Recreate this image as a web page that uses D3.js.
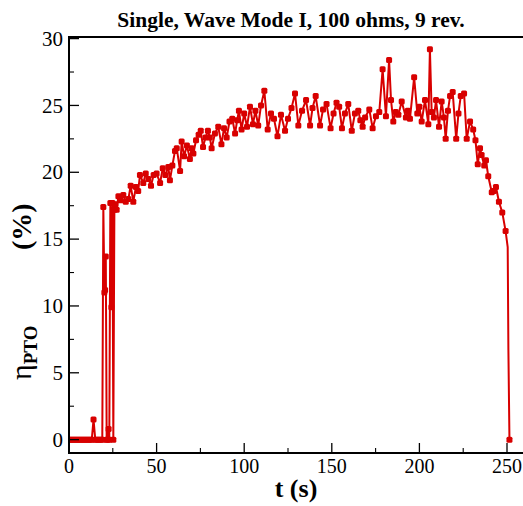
<!DOCTYPE html>
<html>
<head>
<meta charset="utf-8">
<script src="https://cdn.jsdelivr.net/npm/d3@7"></script>
<style>
  html, body { margin: 0; padding: 0; background: #fff; }
  svg { display: block; font-family: "Liberation Serif", "Times New Roman", serif; }
</style>
</head>
<body>
<div id="chart"></div>
<script>
// ---------------------------------------------------------------------------
// PTO efficiency vs time — single run, wave mode I, 100 ohms, 9 rev.
// ---------------------------------------------------------------------------

const title = 'Single, Wave Mode I, 100 ohms, 9 rev.';
const xTicks = [0, 50, 100, 150, 200, 250];
const yTicks = [0, 5, 10, 15, 20, 25, 30];

// time (s) and efficiency (%)
const time = [
  0, 1, 2, 3, 4, 5, 6, 7, 8, 9, 10, 11, 12, 13, 14, 15, 16, 17, 18, 19,
  19.6, 20.2, 20.6, 21.0, 21.5, 22, 22.6, 23, 23.6, 24.2, 24.8, 25.3, 25.9,
  26.5, 27.2, 28.2, 29.5, 31, 32.4, 33.9, 35.2, 36.7, 38.2, 39.5, 40.5, 42.4,
  43.8, 45.3, 46.8, 48.3, 50, 52, 53.5, 55, 56.7, 57.6, 59, 60.5, 61.5, 63.4,
  64.3, 65.7, 67.3, 69, 70, 71, 72.5, 74, 75.2, 76.5, 77.9, 79.3, 80.4, 81.4,
  83.3, 85.2, 87, 88.5, 90, 91.6, 93.2, 94.8, 96, 97, 98.5, 100, 101.6, 103.3,
  105, 106.4, 108, 109.6, 111.5, 113.4, 115.3, 117, 119, 121, 123.3, 125, 127,
  129, 130.9, 133, 135.3, 137.6, 139, 140.8, 143.3, 145, 147, 149.3, 151,
  152.7, 154.2, 155.8, 157.5, 159.4, 161.4, 163.2, 165.1, 166.3, 167.6, 169,
  171.4, 173.3, 175.2, 177.1, 179, 180.9, 182.7, 183.8, 185.1, 186.5, 188,
  189.9, 192.3, 193.4, 194.6, 197, 198.8, 200, 201.3, 203.2, 205.1, 206, 207,
  208.3, 209.5, 211.2, 212.7, 214, 215, 216.3, 217.5, 219, 221, 222.3, 223.6,
  225.5, 227, 228.9, 230.7, 232, 233.3, 234.6, 235.5, 237, 238, 239.3, 241.3,
  242.5, 243.7, 245.4, 247.3, 249.2, 250.4, 250.8, 251.4
];
const eta = [
  0, 0, 0, 0, 0, 0, 0, 0, 0, 0, 0, 0, 0, 0, 1.5, 0, 0, 0, 0, 0,
  17.4, 11.0, 11.2, 13.7, 0, 0, 0.8, 0, 17.7, 9.9, 17.7, 0, 17.2,
  17.6, 17.2, 18.2, 17.9, 18.3, 17.8, 18.0, 19.0, 17.8, 18.9, 18.6, 19.8, 19.2,
  19.9, 19.5, 19.0, 19.8, 19.9, 19.2, 20.3, 19.8, 20.4, 19.4, 20.5, 21.6, 21.8, 20.1,
  22.3, 21.2, 22.0, 21.0, 21.8, 21.4, 22.4, 22.8, 23.1, 21.9, 22.6, 23.1, 22.6, 21.8,
  22.9, 23.4, 22.1, 23.3, 22.6, 23.8, 24.0, 22.9, 23.9, 24.6, 23.2, 24.4, 23.4, 24.9,
  23.6, 24.6, 23.5, 25.0, 26.1, 23.2, 24.4, 24.0, 22.7, 24.3, 23.1, 24.0, 24.8,
  25.9, 23.5, 24.6, 25.4, 23.5, 24.8, 25.7, 23.5, 24.7, 25.1, 23.3, 24.4,
  25.2, 24.9, 23.3, 24.4, 25.1, 23.1, 24.4, 24.6, 23.9, 23.4, 24.1,
  24.7, 23.3, 24.2, 24.5, 27.7, 24.2, 28.4, 25.4, 23.8, 24.5, 24.3,
  25.3, 24.1, 24.6, 24.0, 27.1, 24.4, 24.9, 23.8, 25.4, 23.6, 29.2, 24.5,
  24.1, 25.4, 23.4, 25.3, 24.1, 22.5, 24.6, 25.7, 26.0, 22.5, 24.4, 25.7,
  25.9, 22.5, 23.8, 23.2, 22.4, 20.6, 21.8, 21.3, 20.5, 20.9, 19.7, 18.5,
  18.6, 18.9, 17.8, 17.0, 15.6, 14.4, 6.7, 0
];
// points drawn as plain line, no marker
const noMarkerTimes = [250.4, 250.8];

const width = 523, height = 506;
const margin = { top: 37, right: -4, bottom: 53, left: 69 };
const lineColor = '#d80000';

const svg = d3.select('#chart').append('svg')
  .attr('width', width).attr('height', height);

const x = d3.scaleLinear().domain([0, 250]).range([margin.left, 507]);
const y = d3.scaleLinear().domain([-1, 30]).range([height - margin.bottom, 38.6]);

const plotRight = width - margin.right;
const plotBottom = height - margin.bottom;

// Title
svg.append('text')
  .attr('x', 291).attr('y', 27)
  .attr('text-anchor', 'middle')
  .attr('font-size', '21.5px').attr('font-weight', 'bold')
  .text(title);

// clip for the data
svg.append('defs').append('clipPath').attr('id', 'plot-clip')
  .append('rect')
  .attr('x', margin.left).attr('y', margin.top)
  .attr('width', plotRight - margin.left).attr('height', plotBottom - margin.top);

const pts = time.map((t, i) => [t, eta[i]]);

const g = svg.append('g').attr('clip-path', 'url(#plot-clip)');

g.append('path')
  .datum(pts)
  .attr('fill', 'none')
  .attr('stroke', lineColor)
  .attr('stroke-width', 2)
  .attr('stroke-linejoin', 'round')
  .attr('d', d3.line().x(d => x(d[0])).y(d => y(d[1])));

g.selectAll('.marker')
  .data(pts.filter(d => !noMarkerTimes.includes(d[0])))
  .join('rect')
  .attr('class', 'marker')
  .attr('x', d => x(d[0]) - 3)
  .attr('y', d => y(d[1]) - 3)
  .attr('width', 6).attr('height', 6)
  .attr('rx', 1.5)
  .attr('fill', lineColor);

// Minor / major ticks (inward)
const axisG = svg.append('g').attr('stroke', '#000');

const xMinor = d3.range(25, 260, 50);
const yMinor = d3.range(2.5, 30, 5);

axisG.selectAll('.xmaj').data(xTicks).join('line')
  .attr('x1', d => x(d)).attr('x2', d => x(d))
  .attr('y1', plotBottom).attr('y2', plotBottom - 10)
  .attr('stroke-width', 1.3);
axisG.selectAll('.xmin').data(xMinor).join('line')
  .attr('x1', d => x(d)).attr('x2', d => x(d))
  .attr('y1', plotBottom).attr('y2', plotBottom - 5)
  .attr('stroke-width', 1.1);
axisG.selectAll('.ymaj').data(yTicks).join('line')
  .attr('y1', d => y(d)).attr('y2', d => y(d))
  .attr('x1', margin.left).attr('x2', margin.left + 10)
  .attr('stroke-width', 1.3);
axisG.selectAll('.ymin').data(yMinor).join('line')
  .attr('y1', d => y(d)).attr('y2', d => y(d))
  .attr('x1', margin.left).attr('x2', margin.left + 5)
  .attr('stroke-width', 1.1);

// Frame
svg.append('rect')
  .attr('x', margin.left).attr('y', margin.top)
  .attr('width', plotRight - margin.left).attr('height', plotBottom - margin.top)
  .attr('fill', 'none').attr('stroke', '#000').attr('stroke-width', 2);

// Tick labels
svg.selectAll('.xlab').data(xTicks).join('text')
  .attr('x', d => x(d)).attr('y', plotBottom + 20)
  .attr('text-anchor', 'middle')
  .attr('font-size', '20px')
  .text(d => d);

svg.selectAll('.ylab').data(yTicks).join('text')
  .attr('x', margin.left - 6).attr('y', d => y(d))
  .attr('dy', '0.34em')
  .attr('text-anchor', 'end')
  .attr('font-size', '21px')
  .text(d => d);

// Axis titles
svg.append('text')
  .attr('x', 296).attr('y', 497)
  .attr('text-anchor', 'middle')
  .attr('font-size', '26px').attr('font-weight', 'bold')
  .text('t (s)');

// y title: η (regular) + PTO subscript (bold), then (%) set further up
const yTitle = svg.append('text')
  .attr('transform', 'translate(31,380) rotate(-90)')
  .attr('text-anchor', 'start');
yTitle.append('tspan').attr('font-size', '30px').text('η');
yTitle.append('tspan').attr('font-size', '19px').attr('font-weight', 'bold')
  .attr('dy', 6).text('PTO');
yTitle.append('tspan').attr('font-size', '28px').attr('font-weight', 'bold')
  .attr('x', 130).attr('dy', -6).text('(%)');
</script>
</body>
</html>
